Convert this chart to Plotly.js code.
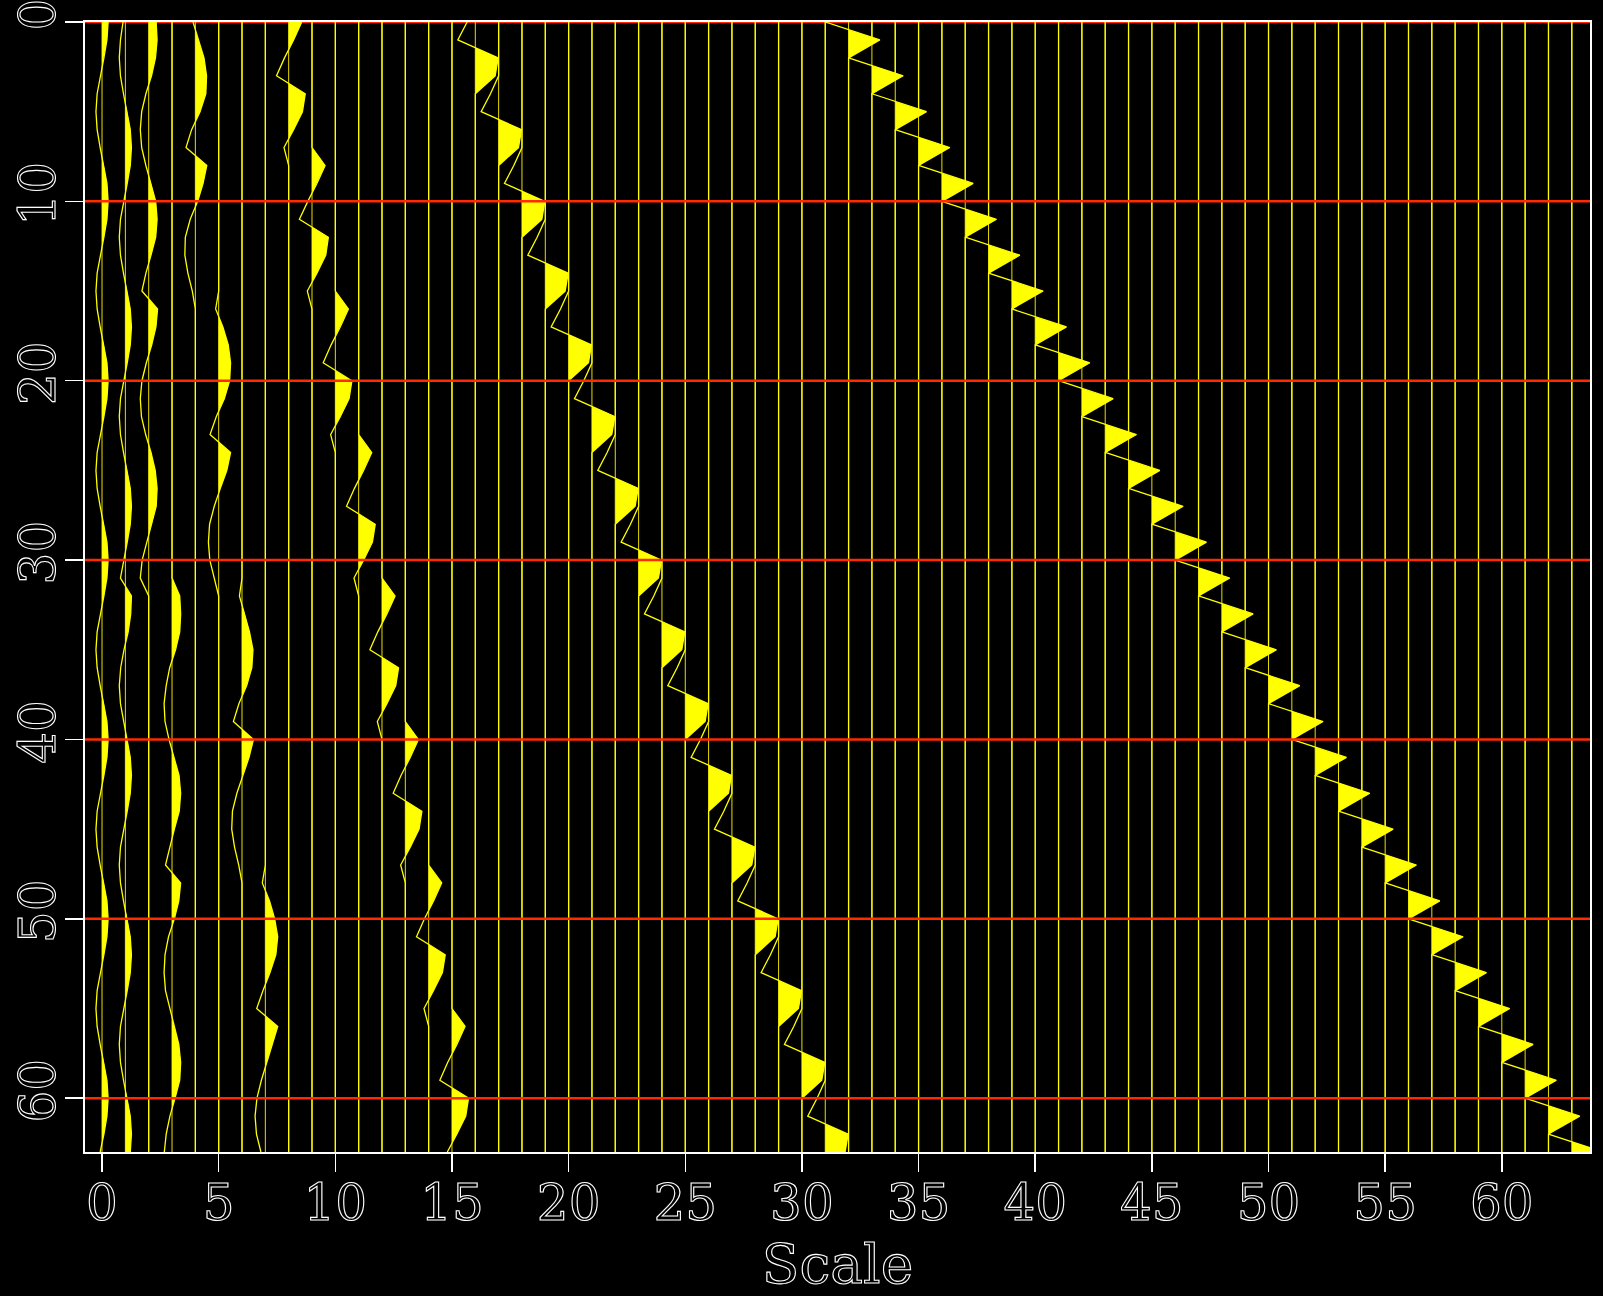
<!DOCTYPE html>
<html>
<head>
<meta charset="utf-8">
<script src="https://cdn.plot.ly/plotly-3.0.1.min.js"></script>
<style>
html, body { margin: 0; padding: 0; background: #000; }
#chart { width: 1603px; height: 1296px; }
.xtick text, .ytick text, .xtitle {
  fill: none !important;
  stroke: #ffffff !important;
  stroke-width: 1.1px;
}
</style>
</head>
<body>
<div id="chart"></div>
<script>
// ---- data ----
const xTickVals = [0, 5, 10, 15, 20, 25, 30, 35, 40, 45, 50, 55, 60];
const yTickVals = [0, 10, 20, 30, 40, 50, 60];
const redLineRows = [0, 10, 20, 30, 40, 50, 60];
const rowCount = 64;

// first row of each trace's non-zero part
const traceStart = [
  0, 0, 0, 32,
  0, 16, 32, 48,
  0, 8, 16, 24, 32, 40, 48, 56,
  0, 4, 8, 12, 16, 20, 24, 28, 32, 36, 40, 44, 48, 52, 56, 60,
  0, 2, 4, 6, 8, 10, 12, 14, 16, 18, 20, 22, 24, 26, 28, 30,
  32, 34, 36, 38, 40, 42, 44, 46, 48, 50, 52, 54, 56, 58, 60, 62
];

// wiggle amplitudes (offset from the trace's baseline, in Scale units)
const traceValues = [
  // trace 0
  [0.26,0.21,0.08,-0.08,-0.21,-0.26,-0.21,-0.08,0.08,0.21,
   0.26,0.21,0.08,-0.08,-0.21,-0.26,-0.21,-0.08,0.08,0.21,
   0.26,0.21,0.08,-0.08,-0.21,-0.26,-0.21,-0.08,0.08,0.21,
   0.26,0.21,0.08,-0.08,-0.21,-0.26,-0.21,-0.08,0.08,0.21,
   0.26,0.21,0.08,-0.08,-0.21,-0.26,-0.21,-0.08,0.08,0.21,
   0.26,0.21,0.08,-0.08,-0.21,-0.26,-0.21,-0.08,0.08,0.21,
   0.26,0.21,0.08,-0.08],
  // trace 1
  [-0.1,-0.21,-0.26,-0.21,-0.08,0.08,0.21,0.26,0.21,0.08,
   -0.08,-0.21,-0.26,-0.21,-0.08,0.08,0.21,0.26,0.21,0.08,
   -0.08,-0.21,-0.26,-0.21,-0.08,0.08,0.21,0.26,0.21,0.08,
   -0.08,-0.21,
   0.26,0.23,0.12,-0.06,-0.2,-0.26,-0.21,-0.08,0.08,0.21,
   0.26,0.21,0.08,-0.08,-0.21,-0.26,-0.21,-0.08,0.08,0.21,
   0.26,0.21,0.08,-0.08,-0.21,-0.26,-0.21,-0.08,0.08,0.21,
   0.26,0.21],
  // trace 2
  [0.32,0.36,0.29,0.12,-0.12,-0.3,-0.36,-0.3,-0.12,0.1,0.3,0.36,0.3,0.1,-0.12,-0.29,
   0.38,0.31,0.13,-0.1,-0.29,-0.36,-0.31,-0.13,0.1,0.28,0.36,0.32,0.13,-0.09,-0.28,-0.36],
  // trace 3
  [0.33,0.37,0.33,0.15,-0.1,-0.25,-0.34,-0.3,-0.13,0.08,0.3,0.37,0.31,0.1,-0.1,-0.28,
   0.37,0.29,0.1,-0.15,-0.3,-0.34,-0.28,-0.1,0.1,0.29,0.37,0.33,0.13,-0.09,-0.25,-0.33],
  // traces 4-7
  [-0.1,0.13,0.37,0.48,0.45,0.2,-0.16,-0.4,0.49,0.33,0.1,-0.22,-0.43,-0.45,-0.32,-0.13],
  [-0.13,0.18,0.41,0.51,0.47,0.24,-0.1,-0.37,0.51,0.35,0.07,-0.19,-0.39,-0.44,-0.38,-0.18],
  [-0.11,0.12,0.32,0.47,0.42,0.2,-0.13,-0.37,0.49,0.3,0.03,-0.22,-0.41,-0.44,-0.32,-0.14],
  [-0.13,0.18,0.4,0.53,0.45,0.2,-0.1,-0.37,0.53,0.3,0.06,-0.17,-0.36,-0.44,-0.38,-0.19],
  // traces 8-15
  [0.56,0.21,-0.18,-0.52,0.71,0.59,0.21,-0.2],
  [0.56,0.21,-0.18,-0.54,0.7,0.59,0.21,-0.2],
  [0.56,0.21,-0.18,-0.52,0.71,0.59,0.21,-0.2],
  [0.56,0.21,-0.18,-0.52,0.71,0.59,0.21,-0.2],
  [0.56,0.21,-0.18,-0.52,0.71,0.59,0.21,-0.2],
  [0.56,0.21,-0.18,-0.52,0.71,0.59,0.21,-0.2],
  [0.56,0.21,-0.18,-0.52,0.71,0.59,0.21,-0.2],
  [0.56,0.21,-0.18,-0.52,0.71,0.59,0.21,-0.2],
  // traces 16-31
  [-0.35,-0.75,0.98,0.85], [-0.35,-0.75,0.98,0.85], [-0.35,-0.75,0.98,0.85], [-0.35,-0.75,0.98,0.85],
  [-0.35,-0.75,0.98,0.85], [-0.35,-0.75,0.98,0.85], [-0.35,-0.75,0.98,0.85], [-0.35,-0.75,0.98,0.85],
  [-0.35,-0.75,0.98,0.85], [-0.35,-0.75,0.98,0.85], [-0.35,-0.75,0.98,0.85], [-0.35,-0.75,0.98,0.85],
  [-0.35,-0.75,0.98,0.85], [-0.35,-0.75,0.98,0.85], [-0.35,-0.75,0.98,0.85], [-0.35,-0.75,0.98,0.85],
  // traces 32-63
  [-1.0,1.34], [-1.0,1.34], [-1.0,1.34], [-1.0,1.34], [-1.0,1.34], [-1.0,1.34], [-1.0,1.34], [-1.0,1.34],
  [-1.0,1.34], [-1.0,1.34], [-1.0,1.34], [-1.0,1.34], [-1.0,1.34], [-1.0,1.34], [-1.0,1.34], [-1.0,1.34],
  [-1.0,1.34], [-1.0,1.34], [-1.0,1.34], [-1.0,1.34], [-1.0,1.34], [-1.0,1.34], [-1.0,1.34], [-1.0,1.34],
  [-1.0,1.34], [-1.0,1.34], [-1.0,1.34], [-1.0,1.34], [-1.0,1.34], [-1.0,1.34], [-1.0,1.34], [-1.0,1.34]
];

// ---- build wiggle geometry ----
const baseX = [], baseY = [];
const lineX = [], lineY = [];
const fillX = [], fillY = [];

for (let k = 0; k < traceValues.length; k++) {
  const vals = traceValues[k];
  const s = traceStart[k];
  const amp = r => (r >= s && r < s + vals.length) ? vals[r - s] : 0;

  baseX.push(k, k, null);
  baseY.push(0, rowCount - 1, null);

  // wiggle line
  for (let r = 0; r < rowCount; r++) {
    lineX.push(k + amp(r));
    lineY.push(r);
  }
  lineX.push(null); lineY.push(null);

  // positive (variable-area) fill
  fillX.push(k); fillY.push(0);
  for (let r = 0; r < rowCount; r++) {
    const a = amp(r);
    if (r > 0) {
      const p = amp(r - 1);
      if ((p > 0 && a < 0) || (p < 0 && a > 0)) {
        fillX.push(k); fillY.push(r - 1 + p / (p - a));
      }
    }
    fillX.push(k + Math.max(a, 0)); fillY.push(r);
  }
  fillX.push(k); fillY.push(rowCount - 1);
  fillX.push(null); fillY.push(null);
}

const traces = [
  { type: 'scatter', mode: 'lines', x: baseX, y: baseY, hoverinfo: 'skip',
    line: { color: '#e6dc00', width: 1 } },
  { type: 'scatter', mode: 'lines', x: fillX, y: fillY, fill: 'toself',
    fillcolor: '#ffff00', line: { width: 0, color: 'rgba(0,0,0,0)' }, hoverinfo: 'skip' },
  { type: 'scatter', mode: 'lines', x: lineX, y: lineY, hoverinfo: 'skip',
    line: { color: '#ffff00', width: 1.3 } }
];

const shapes = redLineRows.map(v => ({
  type: 'line', xref: 'paper', yref: 'y', x0: 0, x1: 1, y0: v, y1: v,
  line: { color: '#ff2a00', width: 2.5 },
  layer: v === 0 ? 'below' : 'above'
}));

const tickFont = { family: 'DejaVu Serif', size: 50, color: '#ffffff' };

const layout = {
  width: 1603, height: 1296,
  paper_bgcolor: '#000000', plot_bgcolor: '#000000',
  margin: { l: 85, r: 13, t: 22, b: 144 },
  showlegend: false,
  xaxis: {
    range: [-0.73, 63.78],
    tickmode: 'array', tickvals: xTickVals, ticktext: xTickVals.map(String),
    ticks: 'outside', ticklen: 18, tickwidth: 1.5, tickcolor: '#ffffff',
    ticklabelstandoff: -12, ticklabeloverflow: 'allow',
    showline: true, linecolor: '#ffffff', linewidth: 2, mirror: true,
    showgrid: false, zeroline: false,
    tickfont: tickFont,
    title: { text: 'Scale', font: { family: 'DejaVu Serif', size: 55, color: '#ffffff' }, standoff: 52 }
  },
  yaxis: {
    range: [63, 0],
    tickmode: 'array', tickvals: yTickVals, ticktext: yTickVals.map(String),
    ticks: 'outside', ticklen: 18, tickwidth: 1.5, tickcolor: '#ffffff',
    tickangle: -90, ticklabelstandoff: -10, ticklabeloverflow: 'allow',
    showline: true, linecolor: '#ffffff', linewidth: 2, mirror: true,
    showgrid: false, zeroline: false,
    tickfont: tickFont
  },
  shapes: shapes
};

Plotly.newPlot('chart', traces, layout, { displayModeBar: false, staticPlot: true });
</script>
</body>
</html>
